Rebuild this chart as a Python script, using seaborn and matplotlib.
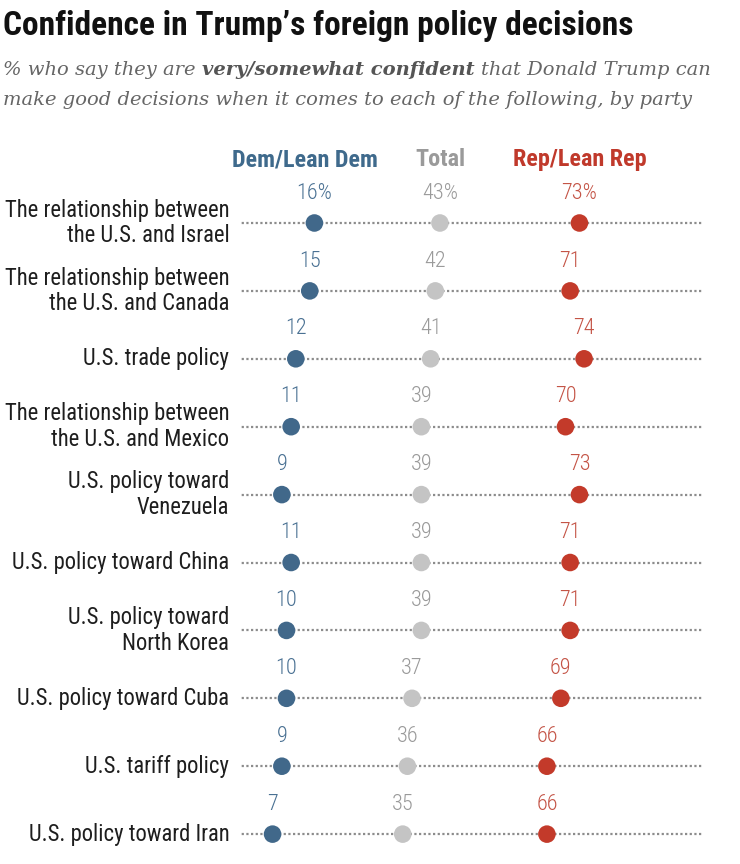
import matplotlib
matplotlib.use("Agg")
import matplotlib.pyplot as plt
from matplotlib import font_manager
import pandas as pd
import seaborn as sns

topics = [
    "The relationship between\nthe U.S. and Israel",
    "The relationship between\nthe U.S. and Canada",
    "U.S. trade policy",
    "The relationship between\nthe U.S. and Mexico",
    "U.S. policy toward\nVenezuela",
    "U.S. policy toward China",
    "U.S. policy toward\nNorth Korea",
    "U.S. policy toward Cuba",
    "U.S. tariff policy",
    "U.S. policy toward Iran",
]
dem = [16, 15, 12, 11, 9, 11, 10, 10, 9, 7]
total = [43, 42, 41, 39, 39, 39, 39, 37, 36, 35]
rep = [73, 71, 74, 70, 73, 71, 71, 69, 66, 66]

groups = ["Dem/Lean Dem", "Total", "Rep/Lean Rep"]
dot_colors = ["#41688a", "#c4c4c4", "#c33a2a"]
text_colors = ["#4a7193", "#9a9a9a", "#c45446"]
header_colors = ["#3f6a8c", "#9a9a9a", "#c0392b"]

df = pd.DataFrame({"topic": topics, groups[0]: dem, groups[1]: total, groups[2]: rep})
df["row"] = range(len(df))
long = df.melt(id_vars=["topic", "row"], value_vars=groups,
               var_name="group", value_name="pct")

sns.set_theme(style="white")
installed = {f.name for f in font_manager.fontManager.ttflist}
sans = next(n for n in ["Roboto Condensed", "Liberation Sans Narrow",
                        "Liberation Sans", "DejaVu Sans"] if n in installed)
plt.rcParams["font.family"] = [sans, "DejaVu Sans"]

W, H = 740, 864
fig = plt.figure(figsize=(W / 100, H / 100), dpi=100)
ax = fig.add_axes([240 / W, 0, 465 / W, (H - 150) / H])

# dotted guide lines
ax.hlines(df["row"], -0.6, 99.5, colors="#8c8c8c",
          linestyles=(0, (1, 1.1)), linewidth=1.6, zorder=1)

sns.scatterplot(data=long, x="pct", y="row", hue="group",
                palette=dict(zip(groups, dot_colors)), s=160,
                edgecolor="none", legend=False, ax=ax, zorder=3)
ax.set_xlim(0, 100)
ax.set_ylim(9.44, -1.075)
ax.axis("off")

# value labels and row labels
for i, r in df.iterrows():
    for g, c in zip(groups, text_colors):
        txt = f"{r[g]}%" if i == 0 else str(r[g])
        ax.text(r[g], r["row"] - 0.44, txt, ha="center", va="center",
                color=c, fontsize=16, fontweight="light")
    ax.text(-2.3, r["row"], r["topic"], ha="right", va="center",
            fontsize=16.3, color="#1e1e1e", linespacing=1.15)

# column headers
for g, c, x in zip(groups, header_colors, [14, 43, 73]):
    ax.text(x, -0.93, g, ha="center", va="center", fontweight="bold",
            fontsize=17.4, color=c)

# title
fig.text(3 / W, 1 - 26 / H, "Confidence in Trump\u2019s foreign policy decisions",
         fontsize=24, fontweight="bold", va="center", color="#111111")

# subtitle with a bold run
renderer = fig.canvas.get_renderer()
sub_kw = dict(family="DejaVu Serif", style="italic", fontsize=14, va="center")


def text_width(s, **kw):
    t = fig.text(0, 0, s, **kw)
    w = t.get_window_extent(renderer).width
    t.remove()
    return w


space = text_width("x x", **sub_kw) - text_width("xx", **sub_kw)


def put_runs(runs, x_px, y_px):
    for s, weight, color in runs:
        t = fig.text(x_px / W, 1 - y_px / H, s, fontweight=weight,
                     color=color, **sub_kw)
        x_px += t.get_window_extent(renderer).width + space


put_runs([("% who say they are", "normal", "#666666"),
          ("very/somewhat confident", "bold", "#555555"),
          ("that Donald Trump can", "normal", "#666666")], 3, 70)
put_runs([("make good decisions when it comes to each of the following, by party",
           "normal", "#666666")], 3, 100)

fig.savefig("out.png", dpi=100, facecolor="white")
